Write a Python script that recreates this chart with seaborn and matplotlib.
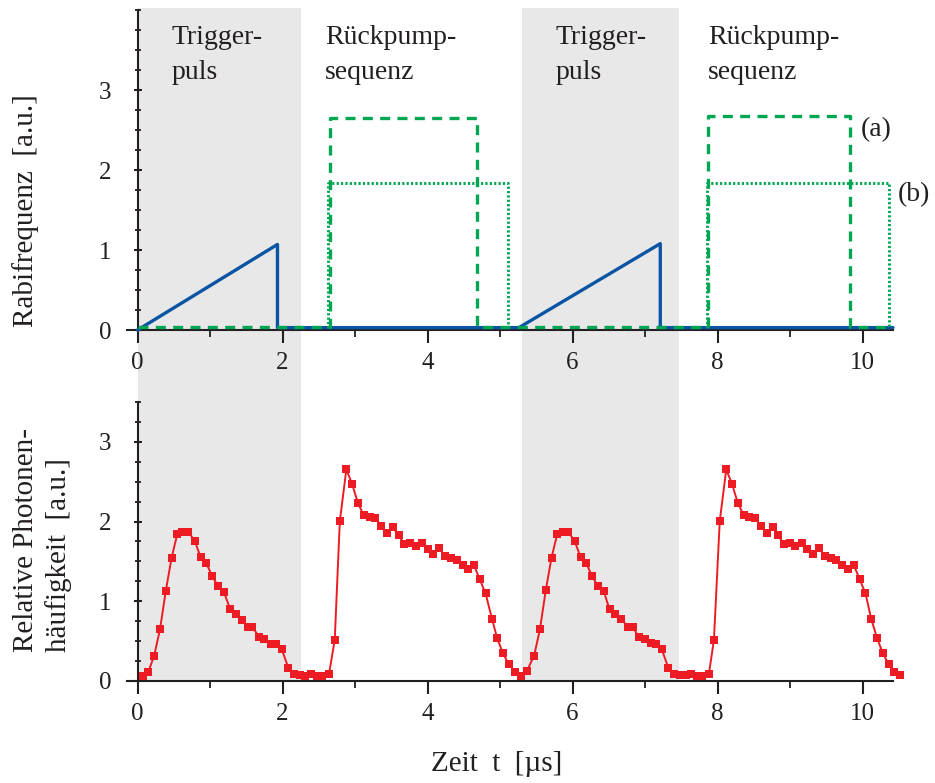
import numpy as np
import pandas as pd
import matplotlib
matplotlib.use("Agg")
import matplotlib.pyplot as plt
import matplotlib.transforms as mtransforms
from matplotlib.patches import Rectangle
from matplotlib.ticker import MultipleLocator, FixedLocator
import seaborn as sns

# ---------------- data ----------------
# top panel: Rabi frequencies
trigger_t = [0.0, 1.93, 1.93, 5.26, 7.21, 7.21, 10.42]
trigger_v = [0.0, 1.07, 0.03, 0.03, 1.08, 0.03, 0.03]

pump_a_t = [0.0, 2.65, 2.65, 4.68, 4.68, 7.87, 7.87, 9.82, 9.82, 10.42]
pump_a_v = [0.04, 0.04, 2.65, 2.65, 0.04, 0.04, 2.67, 2.67, 0.04, 0.04]

pump_b_t = [2.63, 2.63, 5.11, 5.11, 7.85, 7.85, 10.36, 10.36]
pump_b_v = [0.03, 1.84, 1.84, 0.03, 0.03, 1.84, 1.84, 0.03]
pump_b_unit = [1, 1, 1, 1, 2, 2, 2, 2]

# shaded trigger windows (start, end) in µs
trigger_windows = [(0.0, 2.26), (5.30, 7.47)]

# bottom panel: relative photon frequency
photon_t = [0.07, 0.15, 0.23, 0.31, 0.39, 0.47, 0.55, 0.62, 0.70, 0.79, 0.87, 0.95, 1.03, 1.11, 1.19,
            1.28, 1.36, 1.44, 1.52, 1.58, 1.68, 1.75, 1.84, 1.91, 1.99, 2.08, 2.16, 2.24, 2.31, 2.39,
            2.48, 2.55, 2.64,
            2.72, 2.79, 2.88, 2.96, 3.04, 3.12, 3.20, 3.28, 3.36, 3.44, 3.52, 3.60, 3.68, 3.76, 3.84,
            3.92, 4.00,
            4.08, 4.16, 4.24, 4.32, 4.40, 4.49, 4.56, 4.64, 4.72, 4.80, 4.89, 4.96, 5.04, 5.12, 5.21,
            5.29, 5.37,
            5.47, 5.55, 5.63, 5.71, 5.79, 5.87, 5.94, 6.03, 6.11, 6.19, 6.27, 6.35, 6.43, 6.51, 6.59,
            6.67, 6.76, 6.83, 6.91, 7.00, 7.08, 7.15, 7.23, 7.32, 7.40, 7.48, 7.56,
            7.64, 7.71, 7.79, 7.88,
            7.95, 8.03, 8.12, 8.20, 8.28, 8.36, 8.43, 8.51, 8.60, 8.68, 8.76, 8.83, 8.92, 9.00, 9.07,
            9.16, 9.23, 9.31, 9.40, 9.48, 9.56, 9.63, 9.72, 9.80, 9.88, 9.96, 10.04, 10.12, 10.20,
            10.28, 10.36, 10.44, 10.52]
photon_v = [0.063, 0.117, 0.319, 0.650, 1.132, 1.547, 1.849, 1.874, 1.874, 1.753,
            1.556, 1.476, 1.312, 1.191, 1.119, 0.897, 0.834, 0.771, 0.683, 0.683,
            0.549, 0.524, 0.470, 0.470, 0.398, 0.164, 0.092, 0.071,
            0.067, 0.084, 0.067, 0.067, 0.084,
            0.516, 2.004, 2.654, 2.470, 2.231, 2.080, 2.055, 2.042, 1.950, 1.857,
            1.929, 1.828, 1.715, 1.727, 1.698, 1.736, 1.652, 1.597, 1.665, 1.564,
            1.543, 1.514, 1.451, 1.405, 1.451, 1.275, 1.099, 0.776, 0.537, 0.348,
            0.210, 0.117, 0.067, 0.126,
            0.319, 0.646, 1.136, 1.547, 1.849, 1.874, 1.874, 1.753, 1.556, 1.476,
            1.312, 1.191, 1.128, 0.897, 0.834, 0.780, 0.683, 0.683, 0.549, 0.524,
            0.474, 0.470, 0.398, 0.168, 0.092, 0.071, 0.071,
            0.084, 0.067, 0.067, 0.084,
            0.516, 2.004, 2.654, 2.470, 2.231, 2.080, 2.055, 2.042, 1.950, 1.857,
            1.929, 1.828, 1.715, 1.727, 1.698, 1.736, 1.652, 1.597, 1.665, 1.564,
            1.543, 1.514, 1.451, 1.405, 1.451, 1.275, 1.099, 0.776, 0.537, 0.348,
            0.210, 0.117, 0.075]

x_ticks = [0, 2, 4, 6, 8, 10]
y_ticks = [0, 1, 2, 3]
phase_labels = [("Trigger-", "puls"), ("Rückpump-", "sequenz"),
                ("Trigger-", "puls"), ("Rückpump-", "sequenz")]
curve_labels = ["(a)", "(b)"]

# ---------------- style ----------------
sns.set_theme(style="ticks")
plt.rcParams['font.family'] = ['Liberation Serif', 'DejaVu Serif']
TXT = '#231f20'
BLUE = '#0a55a3'
GREEN = '#00a651'
RED = '#ed1c24'
SHADE = '#e8e8e8'

fig = plt.figure(figsize=(9.35, 7.83), dpi=100)
ax1 = fig.add_axes([0.1471, 0.5785, 0.808, 0.4087])
ax2 = fig.add_axes([0.1471, 0.1303, 0.808, 0.3563])

# shaded windows spanning both panels
trans = mtransforms.blended_transform_factory(ax1.transData, fig.transFigure)
for (a, b) in trigger_windows:
    fig.add_artist(Rectangle((a, 0.1303), b - a, 0.9898 - 0.1303, transform=trans,
                             facecolor=SHADE, edgecolor='none', zorder=-5))

# top panel lines
sns.lineplot(x=trigger_t, y=trigger_v, sort=False, estimator=None, color=BLUE,
             lw=2.4, ax=ax1, zorder=3)
sns.lineplot(x=pump_a_t, y=pump_a_v, sort=False, estimator=None, color=GREEN,
             lw=2.4, linestyle=(0, (3, 2.2)), ax=ax1, zorder=4)
dfb = pd.DataFrame({'t': pump_b_t, 'v': pump_b_v, 'u': pump_b_unit})
sns.lineplot(data=dfb, x='t', y='v', units='u', sort=False, estimator=None, color=GREEN,
             lw=2.1, linestyle=(0, (0.75, 0.75)), ax=ax1, zorder=4)

# bottom panel
sns.lineplot(x=photon_t, y=photon_v, sort=False, estimator=None, color=RED, lw=1.4,
             marker='s', markersize=5.8, markeredgewidth=0, ax=ax2, zorder=3)

for ax, ytop in [(ax1, 4.0), (ax2, 3.5)]:
    for ln in ax.lines:
        ln.set_clip_on(False)
    ax.set_facecolor('none')
    ax.set_xlim(0, 10.42)
    ax.set_ylim(0, ytop)
    ax.spines['top'].set_visible(False)
    ax.spines['right'].set_visible(False)
    for s in ['left', 'bottom']:
        ax.spines[s].set_linewidth(1.5)
        ax.spines[s].set_color(TXT)
        ax.spines[s].set_zorder(2)
    ax.spines['bottom'].set_bounds(-0.15, 10.42)
    ax.xaxis.set_major_locator(FixedLocator(x_ticks))
    ax.xaxis.set_minor_locator(MultipleLocator(1))
    ax.yaxis.set_major_locator(FixedLocator(y_ticks))
    ax.yaxis.set_minor_locator(MultipleLocator(0.25))
    ax.tick_params(axis='x', which='major', direction='out', length=9, width=1.5,
                   pad=7, labelsize=18, colors=TXT)
    ax.tick_params(axis='x', which='minor', direction='out', length=5, width=1.3, colors=TXT)
    ax.tick_params(axis='y', which='major', direction='inout', length=5.5, width=1.5,
                   pad=16, labelsize=18, colors=TXT)
    ax.tick_params(axis='y', which='minor', direction='inout', length=4, width=1.3, colors=TXT)
    ax.set_xlabel('')
    ax.set_ylabel('')
    for lab in ax.get_xticklabels() + ax.get_yticklabels():
        lab.set_color(TXT)

# phase labels
label_x = [0.47, 2.59, 5.76, 7.87]
for xx, (l1, l2) in zip(label_x, phase_labels):
    ax1.text(xx, 3.574, l1, fontsize=20, color=TXT, va='baseline', ha='left')
    ax1.text(xx, 3.135, l2, fontsize=20, color=TXT, va='baseline', ha='left')

ax1.text(9.97, 2.51, curve_labels[0], fontsize=20, color=TXT, va='center', ha='left')
ax1.text(10.49, 1.69, curve_labels[1], fontsize=20, color=TXT, va='center', ha='left')

# axis labels
fig.text(0.0275, 0.7305, 'Rabifrequenz  [a.u.]', rotation=90, ha='center', va='center',
         fontsize=21, color=TXT)
fig.text(0.0455, 1 - 652 / 783, 'Relative Photonen-\nhäufigkeit  [a.u.]', rotation=90,
         ha='center', va='bottom', multialignment='left', fontsize=21, color=TXT,
         linespacing=1.25)
fig.text(497 / 935, 1 - 771 / 783, 'Zeit  t  [µs]', ha='center', va='baseline',
         fontsize=21, color=TXT)

fig.savefig('out.png', dpi=100)
